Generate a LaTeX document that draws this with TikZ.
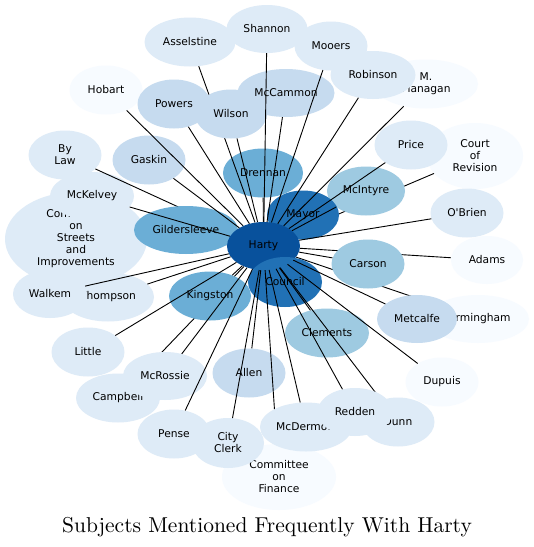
\documentclass[tikz,border=0pt]{standalone}
\usepackage{fontspec}
\newfontfamily\lab{DejaVu Sans}
\newfontfamily\ttlfont{lmroman10-regular.otf}
\usetikzlibrary{shapes.geometric}
\pgfdeclarelayer{bg}
\pgfdeclarelayer{s1}
\pgfdeclarelayer{s2}
\pgfdeclarelayer{s3}
\pgfdeclarelayer{s4}
\pgfdeclarelayer{s5}
\pgfdeclarelayer{s6}
\pgfsetlayers{bg,s1,s2,s3,s4,s5,s6,main}
\definecolor{cA}{HTML}{08519C}
\definecolor{cB}{HTML}{2171B5}
\definecolor{cC}{HTML}{6BAED6}
\definecolor{cD}{HTML}{9ECAE1}
\definecolor{cE}{HTML}{C6DBEF}
\definecolor{cF}{HTML}{DEEBF7}
\definecolor{cG}{HTML}{F7FBFF}
\tikzset{
  bub/.style n args={3}{ellipse, inner sep=0pt, align=center, draw=none,
    fill=#1, minimum width={2*#2}, minimum height={2*#3},
    font=\lab\fontsize{10.7}{12}\selectfont, text=black},
  link/.style={line width=0.9pt, black},
  ttl/.style={font=\ttlfont\fontsize{21.5}{24}\selectfont, anchor=base, inner sep=0pt}
}
\begin{document}
\begin{tikzpicture}[x=1pt,y=-1pt]
\begin{pgfonlayer}{bg}
\fill[white] (0,0) rectangle (534,547);
\end{pgfonlayer}
\useasboundingbox (0,0) rectangle (534,547);

% ---------- layer s1: background nodes ----------
\begin{pgfonlayer}{s1}
\node[bub={cF}{45.5}{24.5}] (asselstine) at (190,42) {Asselstine};
\node[bub={cG}{36.5}{24.5}] (hobart) at (106,90) {Hobart};
\node[bub={cE}{36.5}{24.5}] (powers) at (174,104) {Powers};
\node[bub={cE}{48.5}{24}] (mccammon) at (286,93) {McCammon};
\node[bub={cF}{40.5}{24}] (shannon) at (267,29) {Shannon};
\node[bub={cF}{36.5}{24.5}] (mooers) at (331,46) {Mooers};
\node[bub={cG}{52}{24.5}] (mflan) at (426,84) {M.\\Flanagan};
\node[bub={cF}{42.5}{24}] (robinson) at (373,75) {Robinson};
\node[bub={cG}{48}{33}] (cor) at (475,156) {Court\\of\\Revision};
\node[bub={cF}{36.5}{24.5}] (price) at (411,145) {Price};
\node[bub={cF}{36.5}{24.5}] (obrien) at (467,213) {O'Brien};
\node[bub={cG}{36}{24}] (adams) at (487,260) {Adams};
\node[bub={cG}{51}{24}] (birm) at (478,319) {Birmingham};
\node[bub={cG}{36.5}{24.5}] (dupuis) at (442,382) {Dupuis};
\node[bub={cF}{36.5}{24.5}] (dunn) at (398,422) {Dunn};
\node[bub={cG}{57}{33}] (cof) at (279,477) {Committee\\on\\Finance};
\node[bub={cF}{36.5}{24.5}] (pense) at (174,434) {Pense};
\node[bub={cF}{36}{25}] (clerk) at (228,443) {City\\Clerk};
\node[bub={cF}{36.5}{24.5}] (little) at (88,352) {Little};
\node[bub={cF}{42}{24.5}] (campbell) at (118,398) {Campbell};
\node[bub={cF}{46}{24.5}] (thompson) at (108,297) {Thompson};
\node[bub={cF}{37}{24}] (walkem) at (50,294) {Walkem};
\node[bub={cF}{71}{47}] (csi) at (76,239) {Committee\\on\\Streets\\and\\Improvements};
\node[bub={cF}{42}{24}] (mckelvey) at (92,196) {McKelvey};
\node[bub={cF}{36.5}{24.5}] (bylaw) at (65,155) {By\\Law};
\node[bub={cE}{36.5}{24.5}] (gaskin) at (149,160) {Gaskin};
\node[bub={cC}{40}{24.5}] (drennan) at (263,173) {Drennan};
\node[bub={cE}{36.5}{24.5}] (allen) at (249,373) {Allen};
\node[bub={cD}{42}{24.5}] (clements) at (327,333) {Clements};
\end{pgfonlayer}

% ---------- layer s3: middle nodes ----------
\begin{pgfonlayer}{s3}
\node[bub={cD}{36.5}{24.5}] (carson) at (368,264) {Carson};
\node[bub={cE}{40}{24}] (metcalfe) at (417,319) {Metcalfe};
\node[bub={cD}{39}{24.5}] (mcintyre) at (366,191) {McIntyre};
\node[bub={cC}{52}{24}] (gild) at (186,230) {Gildersleeve};
\node[bub={cB}{36}{24.5}] (mayor) at (303,215) {Mayor};
\node[bub={cC}{41}{24.5}] (kingston) at (210,296) {Kingston};
\node[bub={cF}{42}{24}] (mcrossie) at (165,376) {McRossie};
\node[bub={cE}{36}{24.5}] (wilson) at (231,114) {Wilson};
\node[bub={cA}{36.5}{24}] (harty) at (263.5,246) {Harty};
\node[bub={cB}{37}{25}] (council) at (285,282) {Council};
\end{pgfonlayer}

% ---------- layer s5: top nodes ----------
\begin{pgfonlayer}{s5}
\node[bub={cF}{46}{24.5}] (mcdermott) at (306,427) {McDermott};
\node[bub={cF}{37.5}{24}] (redden) at (355,412) {Redden};
\end{pgfonlayer}

% ---------- layer s2: edges hidden by middle nodes ----------
\begin{pgfonlayer}{s2}
\draw[link] (harty) -- (adams);
\draw[link] (harty) -- (birm);
\draw[link] (harty) -- (cor);
\draw[link] (harty) -- (bylaw);
\draw[link] (harty) -- (csi);
\draw[link] (harty) -- (campbell);
\draw[link] (harty) -- (asselstine);
\end{pgfonlayer}

% ---------- layer s4: edges hidden by top nodes ----------
\begin{pgfonlayer}{s4}
\draw[link] (harty) -- (cof);
\draw[link] (harty) -- (dunn);
\end{pgfonlayer}

% ---------- layer s6: visible edges ----------
\begin{pgfonlayer}{s6}
\draw[link] (harty) -- (shannon);
\draw[link] (harty) -- (mccammon);
\draw[link] (harty) -- (mooers);
\draw[link] (harty) -- (robinson);
\draw[link] (harty) -- (mflan);
\draw[link] (harty) -- (price);
\draw[link] (harty) -- (mcintyre);
\draw[link] (harty) -- (obrien);
\draw[link] (harty) -- (carson);
\draw[link] (harty) -- (metcalfe);
\draw[link] (harty) -- (dupuis);
\draw[link] (harty) -- (redden);
\draw[link] (harty) -- (mcdermott);
\draw[link] (harty) -- (clements);
\draw[link] (harty) -- (allen);
\draw[link] (harty) -- (clerk);
\draw[link] (harty) -- (pense);
\draw[link] (harty) -- (mcrossie);
\draw[link] (harty) -- (kingston);
\draw[link] (harty) -- (little);
\draw[link] (harty) -- (walkem);
\draw[link] (harty) -- (thompson);
\draw[link] (harty) -- (mckelvey);
\draw[link] (harty) -- (gaskin);
\draw[link] (harty) -- (hobart);
\draw[link] (harty) -- (powers);
\draw[link] (harty) -- (wilson);
\draw[link] (harty) -- (drennan);
\end{pgfonlayer}

\node[ttl] (title) at (267,532) {Subjects Mentioned Frequently With Harty};
\end{tikzpicture}
\end{document}
